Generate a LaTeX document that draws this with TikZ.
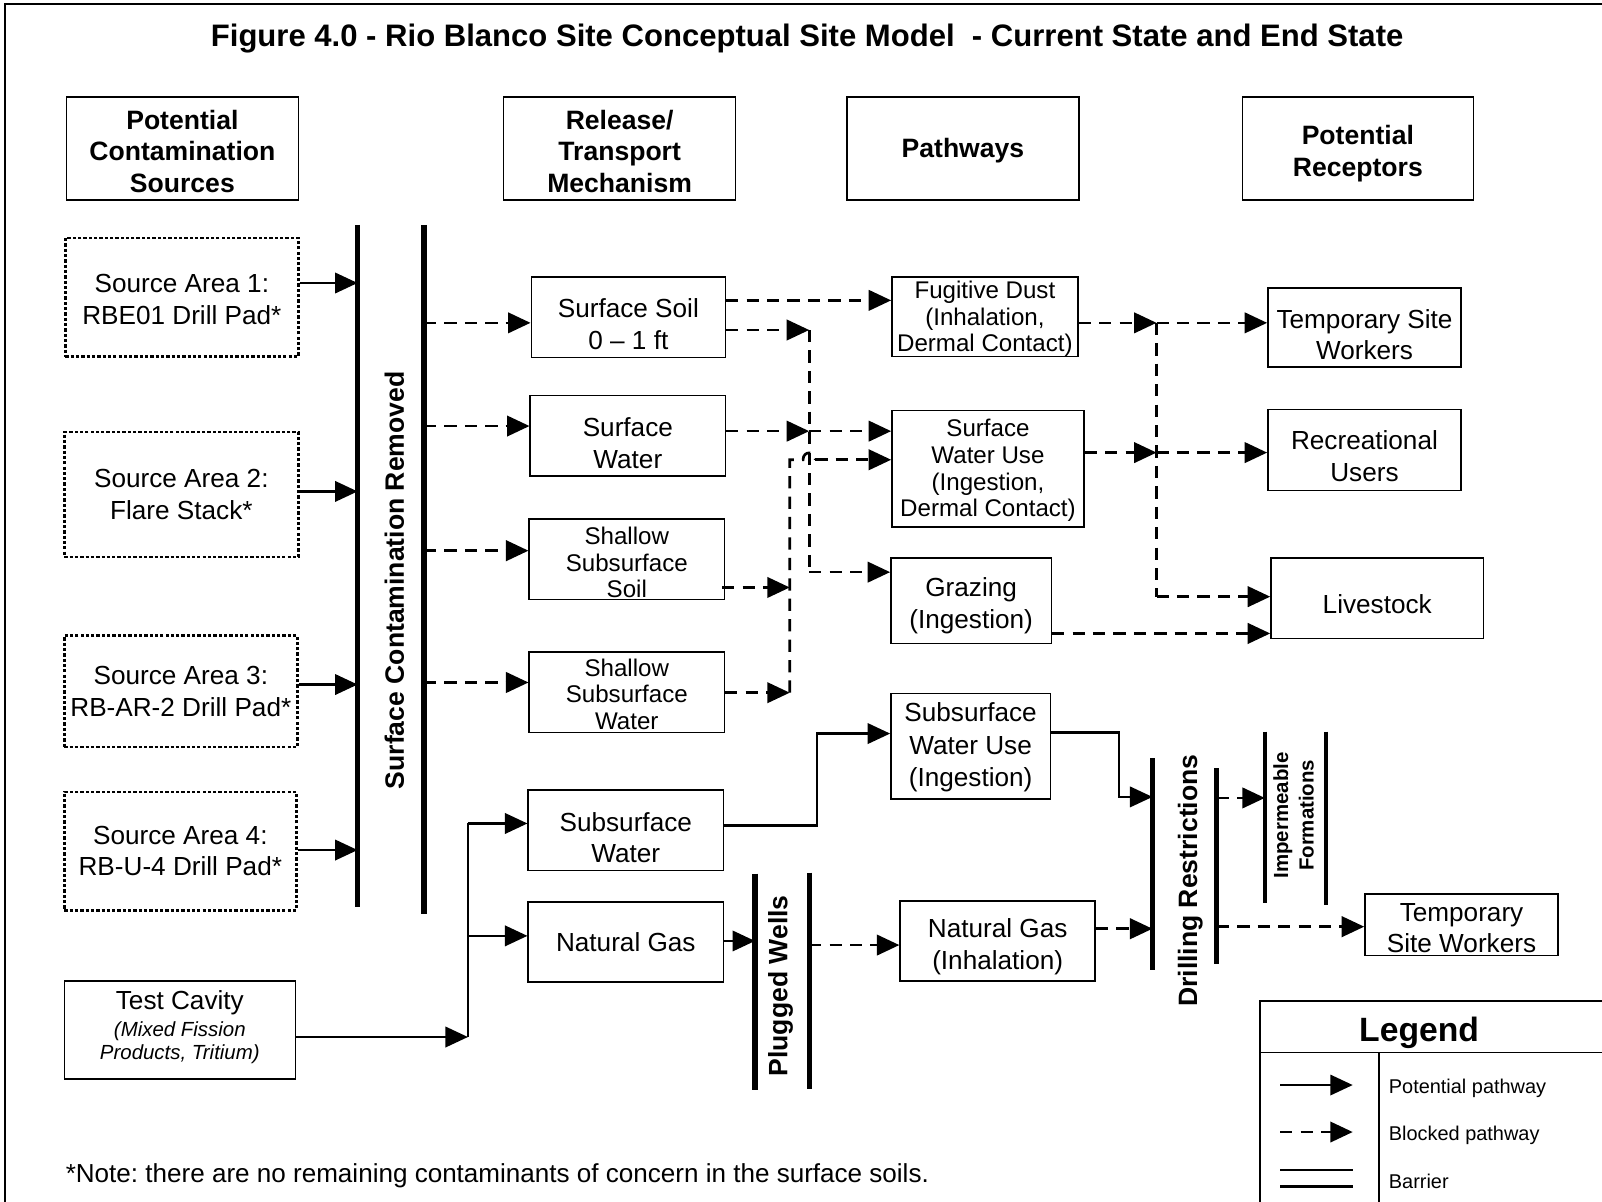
\documentclass[tikz,border=0pt]{standalone}
\usepackage{fontspec}
\setmainfont{Liberation Sans}
\usetikzlibrary{arrows.meta}
\newcommand{\myfs}[2]{\fontsize{#1pt}{#2pt}\selectfont}
\newcommand{\dn}[1]{\rule{0pt}{#1pt}}
\frenchspacing
\begin{document}
\begin{tikzpicture}[x=0.5pt,y=-0.5pt,
  box/.style={draw, line width=0.75pt, align=center, inner sep=0pt, font=\myfs{12.8}{15.5}},
  hbox/.style={box, font=\bfseries\myfs{13}{15.5}},
  dbox/.style={box, line width=1.2pt, dash pattern=on 1.6pt off 1pt},
  sbox/.style={box, font=\myfs{11.8}{13}},
  tip/.style={-{Triangle[length=11pt,width=10pt]}},
  pot/.style={line width=1.1pt, tip},
  potl/.style={line width=1.1pt},
  blk/.style={line width=1.3pt, dash pattern=on 6pt off 4pt, tip},
  blkl/.style={line width=1.3pt, dash pattern=on 6pt off 4pt},
  barrier/.style={line width=2.6pt},
  btext/.style={rotate=90, font=\bfseries\myfs{13}{15.5}, inner sep=0pt},
  lgtext/.style={anchor=west, font=\myfs{9.75}{11}, inner sep=0pt}]
\useasboundingbox (0,0) rectangle (1568,1176);
% frame
\draw[line width=1pt] (5,1176) -- (5,4) -- (1568,4);
% title
\node[font=\bfseries\myfs{15.2}{18}, inner sep=0pt] (title) at (790,38) {Figure 4.0 - Rio Blanco Site Conceptual Site Model\ \ - Current State and End State};
% headers
\node[hbox, minimum width=113.5pt, minimum height=50.5pt] (hsrc) at (178.5,145.5) {\dn{12}Potential\\Contamination\\Sources};
\node[hbox, minimum width=113.5pt, minimum height=50.5pt] (hrel) at (606.5,145.5) {\dn{12}Release/\\Transport\\Mechanism};
\node[hbox, minimum width=113.5pt, minimum height=50.5pt] (hpath) at (942.5,145.5) {\dn{11.5}Pathways};
\node[hbox, minimum width=113pt, minimum height=50.5pt] (hrec) at (1329,145.5) {\dn{14.5}Potential\\Receptors};
% sources
\node[dbox, minimum width=114pt, minimum height=58pt] (sa1) at (178,291) {\dn{11.3}Source Area 1:\\RBE01 Drill Pad*};
\node[dbox, minimum width=114.5pt, minimum height=61pt] (sa2) at (177.5,484) {Source Area 2:\\Flare Stack*};
\node[dbox, minimum width=114pt, minimum height=54.5pt] (sa3) at (177,676.5) {Source Area 3:\\RB-AR-2 Drill Pad*};
\node[dbox, minimum width=113.5pt, minimum height=58pt] (sa4) at (176.5,833) {Source Area 4:\\RB-U-4 Drill Pad*};
\node[box, minimum width=113pt, minimum height=48pt] (tc) at (176,1008) {Test Cavity\\[-2pt]{\itshape\myfs{10}{11}(Mixed Fission}\\[-4.5pt]{\itshape\myfs{10}{11}Products, Tritium)\rule[-5pt]{0pt}{0pt}}};
% transport
\node[box, minimum width=95pt, minimum height=39.5pt] (ssoil) at (615,310.5) {\dn{16.3}Surface Soil\\0 \textendash\ 1 ft};
\node[box, minimum width=95.5pt, minimum height=39.5pt] (swater) at (614.5,426.5) {\dn{16.8}Surface\\Water};
\node[sbox, minimum width=95.5pt, minimum height=39.5pt] (shsoil) at (613.5,547.5) {\dn{11.6}Shallow\\Subsurface\\Soil};
\node[sbox, minimum width=95.5pt, minimum height=39.5pt] (shwater) at (613.5,677.5) {\dn{10.6}Shallow\\Subsurface\\Water};
\node[box, minimum width=95.5pt, minimum height=39.5pt] (subw) at (612.5,812.5) {\dn{16.8}Subsurface\\Water};
\node[box, minimum width=95.5pt, minimum height=39pt] (ngas) at (612.5,922) {Natural Gas};
% pathways
\node[sbox, minimum width=91pt, minimum height=39pt] (fdust) at (964,310) {\dn{10.6}Fugitive Dust\\(Inhalation,\\Dermal Contact)};
\node[sbox, minimum width=94pt, minimum height=57pt] (swu) at (967,459) {\dn{10.1}Surface\\Water Use\\(Ingestion,\\Dermal Contact)};
\node[box, minimum width=78.5pt, minimum height=42pt] (graz) at (950.5,588) {\dn{14.3}Grazing\\(Ingestion)};
\node[box, minimum width=78pt, minimum height=51.5pt, font=\myfs{12.8}{16}] (subwu) at (950,730.5) {\dn{10.3}Subsurface\\Water Use\\(Ingestion)};
\node[box, minimum width=95.5pt, minimum height=39pt] (ngi) at (976.5,921) {\dn{14.8}Natural Gas\\(Inhalation)};
% receptors
\node[box, minimum width=94.5pt, minimum height=38.5pt] (tsw1) at (1335.5,320.5) {\dn{16.3}Temporary Site\\Workers};
\node[box, minimum width=94.5pt, minimum height=39.5pt] (rec) at (1335.5,440.5) {\dn{15.3}Recreational\\Users};
\node[box, minimum width=104pt, minimum height=39.5pt] (live) at (1348,585.5) {\dn{15.3}Livestock};
\node[box, minimum width=94.5pt, minimum height=30pt] (tsw2) at (1430.5,905) {\dn{12.3}Temporary\\Site Workers};
% barriers
\coordinate (b1t) at (350,220); \coordinate (b1b) at (350,888);
\coordinate (b2t) at (415,220); \coordinate (b2b) at (415,895);
\draw[barrier] (b1t) -- (b1b);
\draw[barrier] (b2t) -- (b2b);
\node[btext] (tsurf) at (386,568) {Surface Contamination Removed};
\coordinate (p1t) at (739,855); \coordinate (p1b) at (739,1067);
\coordinate (p2t) at (792,854); \coordinate (p2b) at (792,1066);
\draw[barrier] (p1t) -- (p1b);
\draw[barrier] (p2t) -- (p2b);
\node[btext] (tplug) at (764,965) {Plugged Wells};
\coordinate (d1t) at (1128,742); \coordinate (d1b) at (1128,949);
\coordinate (d2t) at (1191,752); \coordinate (d2b) at (1191,944);
\draw[barrier] (d1t) -- (d1b);
\draw[barrier] (d2t) -- (d2b);
\node[btext] (tdrill) at (1165,862) {Drilling Restrictions};
\coordinate (i1t) at (1238,716); \coordinate (i1b) at (1238,884);
\coordinate (i2t) at (1298,716); \coordinate (i2b) at (1298,886);
\draw[line width=2pt] (i1t) -- (i1b);
\draw[line width=2pt] (i2t) -- (i2b);
\node[btext, align=center, font=\bfseries\myfs{10}{12.5}] (timp) at (1266,798) {Impermeable\\Formations};
% sources to barrier
\draw[pot] (sa1.east |- 0,277) -- (b1t |- 0,277);
\draw[pot] (sa2.east |- 0,481) -- (b1t |- 0,481);
\draw[pot] (sa3.east |- 0,670) -- (b1t |- 0,670);
\draw[pot] (sa4.east |- 0,832) -- (b1t |- 0,832);
% barrier to transport
\draw[blk] (b2t |- 0,316) -- (ssoil.west |- 0,316);
\draw[blk] (b2t |- 0,417) -- (swater.west |- 0,417);
\draw[blk] (b2t |- 0,539) -- (shsoil.west |- 0,539);
\draw[blk] (b2t |- 0,668) -- (shwater.west |- 0,668);
% transport to pathways
\coordinate (j1t) at (792,323); \coordinate (j1b) at (792,560);
\coordinate (j2t) at (773,450); \coordinate (j2b) at (773,678);
\draw[blk] (ssoil.east |- 0,294) -- (fdust.west |- 0,294);
\draw[blk] (ssoil.east |- 0,323) -- (j1t);
\draw[blk] (swater.east |- 0,422) -- (j1t |- 0,422);
\draw[blk] (j1t |- 0,422) -- (swu.west |- 0,422);
\draw[blkl] (j1t) -- (j1b);
\draw[blk] (j1b) -- (graz.west |- j1b);
\draw[blk] ([xshift=-1.5pt]shsoil.east |- 0,575) -- (j2t |- 0,575);
\draw[blk] (shwater.east |- j2b) -- (j2b);
\draw[blkl] (j2b) -- (j2t) -- (786,450) .. controls (786,441) and (798,441) .. (798,450);
\draw[blk] (798,450) -- (swu.west |- 0,450);
% pathways to receptors
\coordinate (j3t) at (1132,316); \coordinate (j3b) at (1132,584);
\draw[blk] (fdust.east |- j3t) -- (j3t);
\draw[blk] (j3t) -- (tsw1.west |- j3t);
\draw[blkl] (j3t) -- (j3b);
\draw[blk] (j3b) -- (live.west |- j3b);
\draw[blk] (swu.east |- 0,443) -- (j3t |- 0,443);
\draw[blk] (j3t |- 0,443) -- (rec.west |- 0,443);
\draw[blk] (graz.east |- 0,620) -- (live.west |- 0,620);
% deep pathways
\coordinate (tk) at (458,1015); \coordinate (tkt) at (458,806);
\draw[pot] (tc.east |- tk) -- (tk);
\draw[potl] (tk) -- (tkt);
\draw[pot] (tkt) -- (subw.west |- tkt);
\draw[pot] (tk |- 0,916) -- (ngas.west |- 0,916);
\draw[pot] (ngas.east |- 0,921) -- (p1t |- 0,921);
\draw[blk] (p2t |- 0,925) -- (ngi.west |- 0,925);
\draw[pot] (subw.east |- 0,808) -- (800,808) -- (800,718) -- (subwu.west |- 0,718);
\draw[pot] (subwu.east |- 0,717) -- (1095,717) -- (1095,780) -- (d1t |- 0,780);
\draw[blk] (ngi.east |- 0,909) -- (d1t |- 0,909);
\draw[blk] (d2t |- 0,781) -- (i1t |- 0,781);
\draw[blk] (d2t |- 0,907) -- (tsw2.west |- 0,907);
% note
\node[anchor=west, font=\myfs{12.75}{15}, inner sep=0pt] (note) at (64,1151) {*Note: there are no remaining contaminants of concern in the surface soils.};
% legend
\draw[line width=0.8pt] (1233,1180) -- (1233,980) -- (1570,980);
\draw[line width=0.8pt] (1233,1030) -- (1570,1030);
\draw[line width=0.8pt] (1350,1030) -- (1350,1180);
\node[font=\bfseries\myfs{16.5}{18}, inner sep=0pt] (lgtitle) at (1389,1011) {Legend};
\coordinate (l1a) at (1253,1062); \coordinate (l1b) at (1324,1062);
\coordinate (l2a) at (1253,1108); \coordinate (l2b) at (1324,1108);
\coordinate (l3a) at (1253,1145); \coordinate (l3b) at (1324,1145);
\coordinate (l4a) at (1253,1161); \coordinate (l4b) at (1324,1161);
\draw[pot] (l1a) -- (l1b);
\draw[blk] (l2a) -- (l2b);
\draw[line width=1.3pt] (l3a) -- (l3b);
\draw[line width=1.3pt] (l4a) -- (l4b);
\node[lgtext] (lg1) at (1359,1065) {Potential pathway};
\node[lgtext] (lg2) at (1359,1111) {Blocked pathway};
\node[lgtext] (lg3) at (1359,1156) {Barrier};
\end{tikzpicture}
\end{document}
